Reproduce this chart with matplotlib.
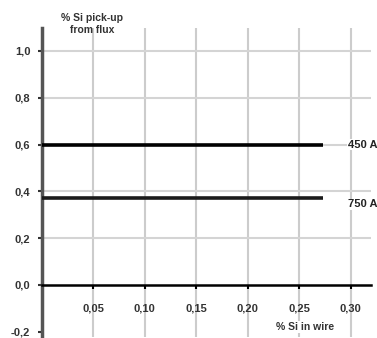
import matplotlib.pyplot as plt
import matplotlib as mpl

mpl.rcParams['font.family'] = ['Liberation Sans', 'DejaVu Sans']

# data
x_ticks = [0.05, 0.10, 0.15, 0.20, 0.25, 0.30]
x_labels = ['0,05', '0,10', '0,15', '0,20', '0,25', '0,30']
y_ticks = [-0.2, 0.0, 0.2, 0.4, 0.6, 0.8, 1.0]
y_labels = ['-0,2', '0,0', '0,2', '0,4', '0,6', '0,8', '1,0']
wire_si = [0.0, 0.273]
pickup_450 = [0.60, 0.60]
pickup_750 = [0.37, 0.37]
series_names = ['450 A', '750 A']

fig = plt.figure(figsize=(3.77, 3.38), dpi=100)
ax = fig.add_axes([41.5 / 377, 1.5 / 338, 329.6 / 377, 309 / 338])
ax.set_xlim(0, 0.32)
ax.set_ylim(-0.22, 1.1)

# grid
for xv in x_ticks:
    ax.axvline(xv, color='#cccccc', lw=1.5, zorder=1)
for yv in [0.2, 0.4, 0.6, 0.8, 1.0]:
    ax.axhline(yv, xmax=0.319 / 0.32, color='#d4d4d4', lw=1.5, zorder=1)

ax.plot(wire_si, pickup_450, color='black', lw=2.6, solid_capstyle='butt', zorder=3)
ax.plot(wire_si, pickup_750, color='#1a1a1a', lw=2.6, solid_capstyle='butt', zorder=3)

for name, yv in zip(series_names, [pickup_450[0], pickup_750[0]]):
    ax.text(0.3115, yv - (0.0 if name == '450 A' else 0.025), name,
            ha='center', va='center', fontsize=8, fontweight='bold', color='#222222',
            bbox=dict(facecolor='white', edgecolor='none', pad=0.5), zorder=4)

for s in ['top', 'right']:
    ax.spines[s].set_visible(False)
ax.spines['left'].set_color('#555555')
ax.spines['left'].set_linewidth(2.5)
ax.spines['bottom'].set_position(('data', 0))
ax.spines['bottom'].set_color('black')
ax.spines['bottom'].set_linewidth(1.8)

ax.set_xticks(x_ticks)
ax.set_xticklabels(x_labels, fontsize=8, fontweight='bold', color='#333333')
ax.set_yticks(y_ticks)
ax.set_yticklabels(y_labels, fontsize=8, fontweight='bold', color='#333333')
ax.tick_params(axis='x', direction='out', length=3, width=1.5, pad=10, color='black')
ax.tick_params(axis='y', direction='out', length=3, width=1.5, pad=5, color='#333333')

fig.text(92 / 377, 1 - 24 / 338, '% Si pick-up\nfrom flux', ha='center', va='center',
         fontsize=7.5, fontweight='bold', color='#333333', linespacing=1.25)
fig.text(305 / 377, 1 - 327 / 338, '% Si in wire', ha='center', va='center',
         fontsize=7.5, fontweight='bold', color='#333333',
         bbox=dict(facecolor='white', edgecolor='none', pad=0.5))

fig.savefig('out.png', dpi=100)
